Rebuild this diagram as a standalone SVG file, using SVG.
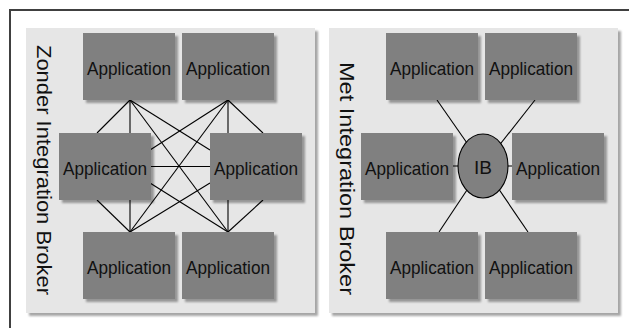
<svg xmlns="http://www.w3.org/2000/svg" width="629" height="328" viewBox="0 0 629 328">
<style>
.panel{fill:#e6e6e6;filter:url(#pshadow)}
.node rect{fill:#808080;filter:url(#nshadow)}
.lbl{font-family:"Liberation Sans",Arial,sans-serif;font-size:19px;fill:#111;text-anchor:middle}
.title{font-family:"Liberation Sans",Arial,sans-serif;font-size:21px;fill:#111}
.edges line{stroke:#000;stroke-width:1.1}
</style>
<defs>
<filter id="nshadow" x="-10%" y="-10%" width="130%" height="130%">
<feDropShadow dx="3" dy="3" stdDeviation="1" flood-color="#000" flood-opacity="0.35"/>
</filter>
<filter id="pshadow" x="-5%" y="-5%" width="115%" height="115%">
<feDropShadow dx="3" dy="3" stdDeviation="0.8" flood-color="#000" flood-opacity="0.35"/>
</filter>
</defs>
<rect width="629" height="328" fill="#fff"/>
<path d="M10 330 V10 H630" fill="none" stroke="#404040" stroke-width="2"/>

<g id="panel-left">
<rect class="panel" x="26" y="28" width="289" height="285"/>
<text class="title" transform="translate(37,45) rotate(90)" textLength="250" lengthAdjust="spacingAndGlyphs">Zonder Integration Broker</text>
</g>
<g id="panel-right">
<rect class="panel" x="329" y="28" width="289" height="285"/>
<text class="title" transform="translate(340,62) rotate(90)" textLength="233" lengthAdjust="spacingAndGlyphs">Met Integration Broker</text>
</g>

<g id="connectors" class="edges">
<line x1="130" y1="100" x2="97" y2="133"/>
<line x1="130" y1="100" x2="130" y2="133"/>
<line x1="130" y1="100" x2="210" y2="150"/>
<line x1="130" y1="100" x2="228" y2="232"/>
<line x1="228" y1="100" x2="150" y2="150"/>
<line x1="228" y1="100" x2="130" y2="232"/>
<line x1="228" y1="100" x2="228" y2="133"/>
<line x1="228" y1="100" x2="263" y2="133"/>
<line x1="150" y1="166.5" x2="210" y2="166.5"/>
<line x1="150" y1="183" x2="228" y2="232"/>
<line x1="210" y1="183" x2="130" y2="232"/>
<line x1="97" y1="200" x2="130" y2="232"/>
<line x1="130" y1="200" x2="130" y2="232"/>
<line x1="228" y1="200" x2="228" y2="232"/>
<line x1="263" y1="200" x2="228" y2="232"/>
<line x1="437" y1="100" x2="483" y2="166"/>
<line x1="535" y1="100" x2="483" y2="166"/>
<line x1="439" y1="232" x2="483" y2="166"/>
<line x1="528" y1="232" x2="483" y2="166"/>
<line x1="452" y1="166" x2="513" y2="166"/>
</g>

<g id="l-tl" class="node"><rect x="83" y="33" width="92" height="67"/><text class="lbl" x="129" y="75" textLength="84" lengthAdjust="spacingAndGlyphs">Application</text></g>
<g id="l-tr" class="node"><rect x="182" y="33" width="92" height="67"/><text class="lbl" x="228" y="75" textLength="84" lengthAdjust="spacingAndGlyphs">Application</text></g>
<g id="l-ml" class="node"><rect x="59" y="133" width="92" height="67"/><text class="lbl" x="105" y="175" textLength="84" lengthAdjust="spacingAndGlyphs">Application</text></g>
<g id="l-mr" class="node"><rect x="210" y="133" width="92" height="67"/><text class="lbl" x="256" y="175" textLength="84" lengthAdjust="spacingAndGlyphs">Application</text></g>
<g id="l-bl" class="node"><rect x="83" y="232" width="92" height="67"/><text class="lbl" x="129" y="274" textLength="84" lengthAdjust="spacingAndGlyphs">Application</text></g>
<g id="l-br" class="node"><rect x="182" y="232" width="92" height="67"/><text class="lbl" x="228" y="274" textLength="84" lengthAdjust="spacingAndGlyphs">Application</text></g>

<g id="r-tl" class="node"><rect x="386" y="33" width="92" height="67"/><text class="lbl" x="432" y="75" textLength="84" lengthAdjust="spacingAndGlyphs">Application</text></g>
<g id="r-tr" class="node"><rect x="485" y="33" width="92" height="67"/><text class="lbl" x="531" y="75" textLength="84" lengthAdjust="spacingAndGlyphs">Application</text></g>
<g id="r-ml" class="node"><rect x="361" y="133" width="92" height="67"/><text class="lbl" x="407" y="175" textLength="84" lengthAdjust="spacingAndGlyphs">Application</text></g>
<g id="r-mr" class="node"><rect x="512" y="133" width="92" height="67"/><text class="lbl" x="558" y="175" textLength="84" lengthAdjust="spacingAndGlyphs">Application</text></g>
<g id="r-bl" class="node"><rect x="386" y="232" width="92" height="67"/><text class="lbl" x="432" y="274" textLength="84" lengthAdjust="spacingAndGlyphs">Application</text></g>
<g id="r-br" class="node"><rect x="485" y="232" width="92" height="67"/><text class="lbl" x="531" y="274" textLength="84" lengthAdjust="spacingAndGlyphs">Application</text></g>

<g id="ib">
<ellipse cx="483" cy="166" rx="25" ry="32" fill="#808080" stroke="#000" stroke-width="1.1"/>
<text class="lbl" x="483" y="174" textLength="18" lengthAdjust="spacingAndGlyphs">IB</text>
</g>
</svg>
